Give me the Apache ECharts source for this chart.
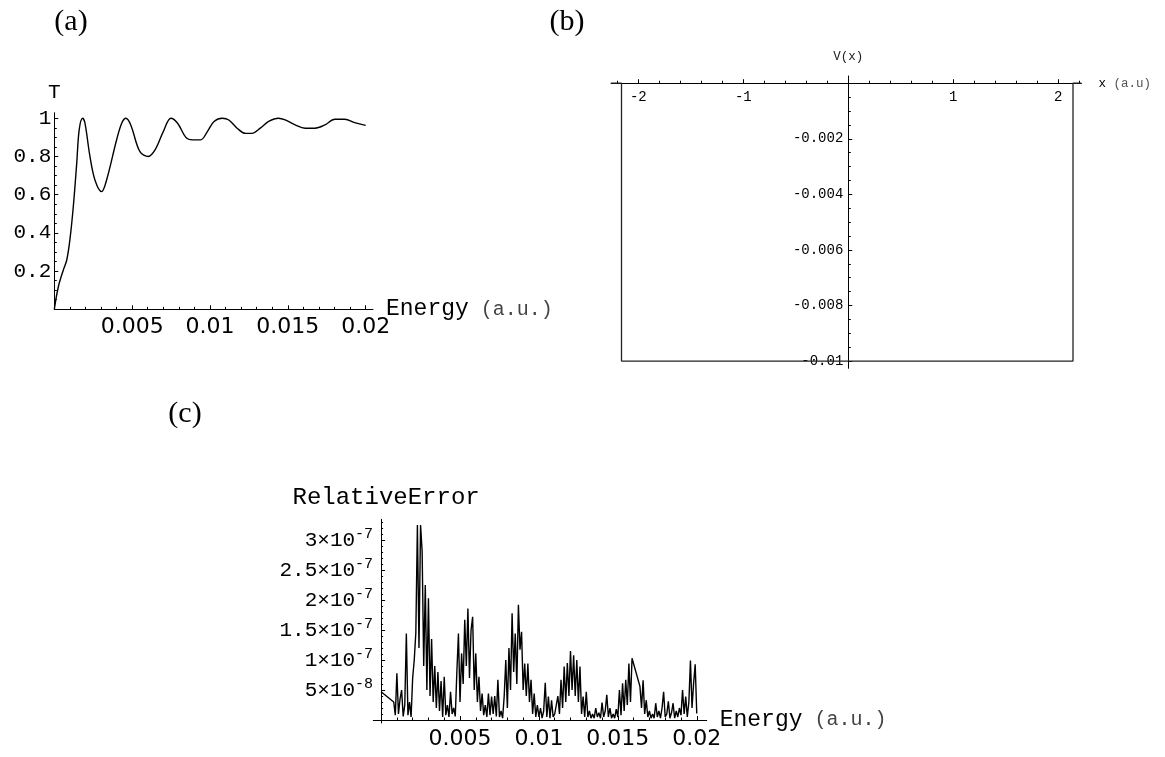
<!DOCTYPE html>
<html>
<head>
<meta charset="utf-8">
<script src="https://cdn.jsdelivr.net/npm/echarts@6/dist/echarts.min.js"></script>
<style>
  html, body { margin: 0; padding: 0; background: #fff; }
  #chart { width: 1165px; height: 757px; }
</style>
</head>
<body>
<div id="chart"></div>
<script>
// ---------- (a) transmission coefficient T versus energy ----------
const transE = [0, 0.00026, 0.00058, 0.0008, 0.001, 0.00122, 0.00144, 0.0016, 0.00182, 0.00197,
  0.00229, 0.00261, 0.00304, 0.00336, 0.004, 0.00433, 0.0046, 0.00491, 0.0055, 0.00604,
  0.00647, 0.007, 0.00749, 0.00792, 0.00845, 0.00887, 0.0094, 0.00983, 0.01026, 0.01079,
  0.01121, 0.01174, 0.01228, 0.0127, 0.01323, 0.01377, 0.0144, 0.01483, 0.01547, 0.01611,
  0.01674, 0.01738, 0.01802, 0.01866, 0.0193, 0.02];
const transT = [0, 0.118, 0.206, 0.258, 0.363, 0.537, 0.764, 0.94, 1.0, 0.974,
  0.80, 0.677, 0.616, 0.677, 0.886, 0.974, 1.0, 0.965, 0.825, 0.80,
  0.834, 0.93, 1.0, 0.974, 0.90, 0.887, 0.887, 0.93, 0.983, 1.0,
  0.991, 0.948, 0.921, 0.921, 0.948, 0.983, 1.0, 0.991, 0.965, 0.948,
  0.948, 0.965, 0.995, 0.995, 0.977, 0.963];

// ---------- (b) square well potential V(x) ----------
const wellX = [-2.26, -2.16, -2.16, 2.14, 2.14, 2.22];
const wellV = [0, 0, -0.01, -0.01, 0, 0];

// ---------- (c) relative error versus energy (values in units of 1e-8) ----------
const errUnit = 1e-8;
const errLeadE = 0;
const errLeadVal = 4.7;
const errStartE = 0.0008;
const errStepE = 0.0001;
const errVals = [
  3.0, 0.8, 7.8, 1.0, 3.5, 5.0, 0.6, 2.5, 14.4, 0.8,      // 0.0008
  3.0, 0.5, 7.0, 10.0, 14.5, 32.5, 12.0, 32.5, 28.1, 9.0,  // 0.0018
  22.5, 5.0, 20.3, 4.0, 13.5, 3.0, 9.0, 2.0, 8.0, 1.5,     // 0.0028
  6.5, 0.5, 7.2, 0.8, 2.5, 0.5, 4.7, 1.0, 2.0, 0.6,        // 0.0038
  8.0, 14.4, 3.0, 11.1, 6.0, 16.7, 9.0, 18.6, 7.0, 15.0,   // 0.0048
  17.2, 5.0, 11.1, 3.0, 7.2, 1.5, 4.4, 0.8, 2.5, 0.5,      // 0.0058
  4.4, 0.8, 3.9, 1.0, 4.0, 0.6, 6.7, 0.5, 1.5, 0.3,        // 0.0068
  4.0, 10.0, 2.0, 12.0, 5.0, 17.8, 8.0, 14.4, 6.0, 19.2,   // 0.0078
  11.7, 14.7, 5.0, 9.4, 4.0, 9.4, 3.0, 6.7, 1.0, 4.4,      // 0.0088
  0.5, 2.5, 0.5, 2.0, 0.3, 1.5, 6.2, 0.5, 3.9, 0.3,        // 0.0098
  3.3, 0.5, 1.0, 0.8, 4.0, 1.0, 6.7, 2.0, 8.9, 3.0,        // 0.0108
  9.5, 4.0, 11.5, 5.0, 10.8, 4.0, 10.0, 3.0, 8.9, 1.0,     // 0.0118
  3.9, 0.5, 4.7, 0.5, 1.5, 0.3, 1.0, 0.3, 2.0, 0.5,        // 0.0128
  1.2, 0.3, 2.9, 0.5, 1.5, 4.2, 0.5, 2.0, 0.3, 1.0,        // 0.0138
  0.3, 1.8, 0.5, 5.0, 0.8, 6.1, 1.5, 6.7, 2.5, 9.4,        // 0.0148
  3.0, 10.3, null, null, null, null, 5.6, 2.0, 6.6, 1.0,   // 0.0158
  3.3, 0.5, 1.5, 0.3, 1.0, 0.3, 2.8, 0.5, 1.5, 0.3,        // 0.0168
  2.0, 4.7, 0.5, 1.0, 3.1, 0.3, 1.2, 2.8, 0.3, 1.5,        // 0.0178
  0.5, 2.0, 0.8, 5.0, 1.0, 3.9, 0.5, 3.0, 9.9, 2.0,        // 0.0188
  6.1, 9.3, 1.1                                            // 0.0198
];

// ---------- tick values and labels ----------
const energyTicks = [0.005, 0.01, 0.015, 0.02];
const energyLabels = ['0.005', '0.01', '0.015', '0.02'];
const transYTicks = [0.2, 0.4, 0.6, 0.8, 1];
const transYLabels = ['0.2', '0.4', '0.6', '0.8', '1'];
const wellXTicks = [-2, -1, 1, 2];
const wellXLabels = ['-2', '-1', '1', '2'];
const wellYTicks = [-0.002, -0.004, -0.006, -0.008, -0.01];
const wellYLabels = ['-0.002', '-0.004', '-0.006', '-0.008', '-0.01'];
const errYTicks = [5e-8, 1e-7, 1.5e-7, 2e-7, 2.5e-7, 3e-7];
const errYMantissa = ['5', '1', '1.5', '2', '2.5', '3'];
const errYExponent = ['-8', '-7', '-7', '-7', '-7', '-7'];

// ---------- helpers ----------
const MONO = '"Liberation Mono", "Courier New", monospace';
const SANS = '"DejaVu Sans", sans-serif';
const SERIF = '"Liberation Serif", "Times New Roman", serif';

function findTick(ticks, v) {
  return ticks.findIndex(t => Math.abs(t - v) <= Math.abs(t) * 1e-6);
}
function labelFor(ticks, labels) {
  return v => { const i = findTick(ticks, v); return i < 0 ? '' : labels[i]; };
}
// evenly spaced small ticks between the labelled ones
function subTicks(from, to, step, skip) {
  const out = [];
  const n = Math.round((to - from) / step);
  for (let i = 0; i <= n; i++) {
    const v = +(from + i * step).toPrecision(10);
    if (!skip.some(m => Math.abs(m - v) < step * 1e-3)) out.push(v);
  }
  return out;
}

const rectA = { left: 54.3, top: 112.7, width: 318.7, height: 196.6 };
const rectB = { left: 611, top: 76, width: 470.4, height: 292.3 };
const rectC = { left: 373.3, top: 519.3, width: 333.4, height: 203.7 };

const ranges = {
  a: { x: [0, 0.02047], y: [0, 1.029] },
  b: { x: [-2.26, 2.22], y: [-0.01026, 0.00026] },
  c: { x: [-0.000494, 0.02063], y: [-5e-9, 3.345e-7] }
};

// shift an axis from the grid edge to the zero line of the other axis
function zeroOffset(rect, range, dim) {
  if (dim === 'x') {
    // horizontal axis: distance from the bottom edge up to y = 0
    return -rect.height * (0 - range[0]) / (range[1] - range[0]);
  }
  // vertical axis: distance from the left edge across to x = 0
  return -rect.width * (0 - range[0]) / (range[1] - range[0]);
}
const offsets = {
  a: { x: 0, y: 0 },
  b: { x: zeroOffset(rectB, ranges.b.y, 'x'), y: zeroOffset(rectB, ranges.b.x, 'y') },
  c: { x: zeroOffset(rectC, ranges.c.y, 'x'), y: zeroOffset(rectC, ranges.c.x, 'y') }
};

function mainAxis(gridIndex, range, offset, ticks, tickLen, label, extra) {
  return Object.assign({
    gridIndex: gridIndex, type: 'value', min: range[0], max: range[1], offset: offset,
    nameMoveOverlap: false,
    axisLine: { show: true, onZero: false, lineStyle: { color: '#000', width: 1 } },
    axisTick: { show: true, inside: true, length: tickLen, customValues: ticks,
                lineStyle: { color: '#000', width: 1 } },
    axisLabel: Object.assign({ customValues: ticks, color: '#000', hideOverlap: false }, label),
    splitLine: { show: false }
  }, extra || {});
}
function minorAxis(gridIndex, range, offset, ticks, tickLen) {
  return {
    gridIndex: gridIndex, type: 'value', min: range[0], max: range[1], offset: offset,
    axisLine: { show: false, onZero: false },
    axisTick: { show: true, inside: true, length: tickLen, customValues: ticks,
                lineStyle: { color: '#000', width: 1 } },
    axisLabel: { show: false },
    splitLine: { show: false }
  };
}

// ---------- series data ----------
const transData = transE.map((e, i) => [e, transT[i]]);
const wellData = wellX.map((x, i) => [x, wellV[i]]);
const errData = [[errLeadE, errLeadVal * errUnit]];
errVals.forEach((v, i) => {
  if (v !== null) errData.push([+(errStartE + i * errStepE).toFixed(5), v * errUnit]);
});

const energyName = {
  name: '{e|Energy} {u|(a.u.)}', nameLocation: 'end', nameGap: 13,
  nameTextStyle: {
    fontFamily: MONO, fontSize: 20, color: '#000',
    rich: {
      e: { fontFamily: MONO, fontSize: 23, color: '#000' },
      u: { fontFamily: MONO, fontSize: 20, color: '#444' }
    }
  }
};

const option = {
  animation: false,
  backgroundColor: '#fff',
  grid: [rectA, rectB, rectC, rectA, rectB, rectC].map(r => Object.assign({ containLabel: false, outerBoundsMode: 'none' }, r)),
  xAxis: [
    mainAxis(0, ranges.a.x, offsets.a.x, energyTicks, 4,
      { formatter: labelFor(energyTicks, energyLabels), fontFamily: SANS, fontSize: 22, margin: 7 },
      energyName),
    mainAxis(1, ranges.b.x, offsets.b.x, wellXTicks, 4,
      { formatter: labelFor(wellXTicks, wellXLabels), fontFamily: MONO, fontSize: 14, margin: 7 },
      {
        name: '{x|x} {u|(a.u)}', nameLocation: 'end', nameGap: 17,
        nameTextStyle: {
          fontFamily: MONO, fontSize: 12.5, color: '#000',
          rich: {
            x: { fontFamily: MONO, fontSize: 12.5, color: '#000' },
            u: { fontFamily: MONO, fontSize: 12.5, color: '#555' }
          }
        }
      }),
    mainAxis(2, ranges.c.x, offsets.c.x, energyTicks, 4,
      { formatter: labelFor(energyTicks, energyLabels), fontFamily: SANS, fontSize: 22, margin: 8 },
      energyName),
    minorAxis(3, ranges.a.x, offsets.a.x, subTicks(0.001, 0.02, 0.001, energyTicks), 2.5),
    minorAxis(4, ranges.b.x, offsets.b.x, subTicks(-2.2, 2.2, 0.2, wellXTicks.concat([0])), 2.5),
    minorAxis(5, ranges.c.x, offsets.c.x, subTicks(0.001, 0.02, 0.001, energyTicks), 2.5)
  ],
  yAxis: [
    mainAxis(0, ranges.a.y, offsets.a.y, transYTicks, 4,
      { formatter: labelFor(transYTicks, transYLabels), fontFamily: MONO, fontSize: 21, margin: 3 },
      {
        name: 'T', nameLocation: 'end', nameGap: 10,
        nameTextStyle: { fontFamily: MONO, fontSize: 21, color: '#000' }
      }),
    mainAxis(1, ranges.b.y, offsets.b.y, wellYTicks, 4,
      { formatter: labelFor(wellYTicks, wellYLabels), fontFamily: MONO, fontSize: 14, margin: 5 },
      {
        name: 'V(x)', nameLocation: 'end', nameGap: 13,
        nameTextStyle: { fontFamily: MONO, fontSize: 12.5, color: '#222' }
      }),
    mainAxis(2, ranges.c.y, offsets.c.y, errYTicks, 4,
      {
        formatter: v => {
          const i = findTick(errYTicks, v);
          return i < 0 ? '' : '{m|' + errYMantissa[i] + '\u00d710}{s|' + errYExponent[i] + '}';
        },
        margin: 8,
        rich: {
          m: { fontFamily: MONO, fontSize: 21, lineHeight: 26, color: '#000' },
          s: { fontFamily: MONO, fontSize: 15, lineHeight: 12, verticalAlign: 'top', color: '#000' }
        }
      },
      {
        name: 'RelativeError', nameLocation: 'end', nameGap: 10,
        nameTextStyle: { fontFamily: MONO, fontSize: 24, color: '#000', padding: [0, 0, 0, 10] }
      }),
    minorAxis(3, ranges.a.y, offsets.a.y, subTicks(0.05, 1.0, 0.05, transYTicks), 2.5),
    minorAxis(4, ranges.b.y, offsets.b.y, subTicks(-0.0095, -0.0005, 0.0005, wellYTicks), 2.5),
    minorAxis(5, ranges.c.y, offsets.c.y, subTicks(1e-8, 3.3e-7, 1e-8, errYTicks), 2)
  ],
  series: [
    {
      type: 'line', xAxisIndex: 0, yAxisIndex: 0, data: transData,
      showSymbol: false, symbol: 'none', smooth: 0.35,
      lineStyle: { color: '#000', width: 1.4 }
    },
    {
      type: 'line', xAxisIndex: 1, yAxisIndex: 1, data: wellData,
      showSymbol: false, symbol: 'none',
      lineStyle: { color: '#222', width: 1.3 }
    },
    {
      type: 'line', xAxisIndex: 2, yAxisIndex: 2, data: errData,
      showSymbol: false, symbol: 'none',
      lineStyle: { color: '#000', width: 1.4 }
    }
  ],
  graphic: [
    { type: 'text', x: 71, y: 22, style: { text: '(a)', font: '30px ' + SERIF, fill: '#000', align: 'center', verticalAlign: 'middle' } },
    { type: 'text', x: 567, y: 22, style: { text: '(b)', font: '30px ' + SERIF, fill: '#000', align: 'center', verticalAlign: 'middle' } },
    { type: 'text', x: 185, y: 414, style: { text: '(c)', font: '30px ' + SERIF, fill: '#000', align: 'center', verticalAlign: 'middle' } }
  ]
};

const chart = echarts.init(document.getElementById('chart'), null, { renderer: 'canvas' });
chart.setOption(option);
</script>
</body>
</html>
